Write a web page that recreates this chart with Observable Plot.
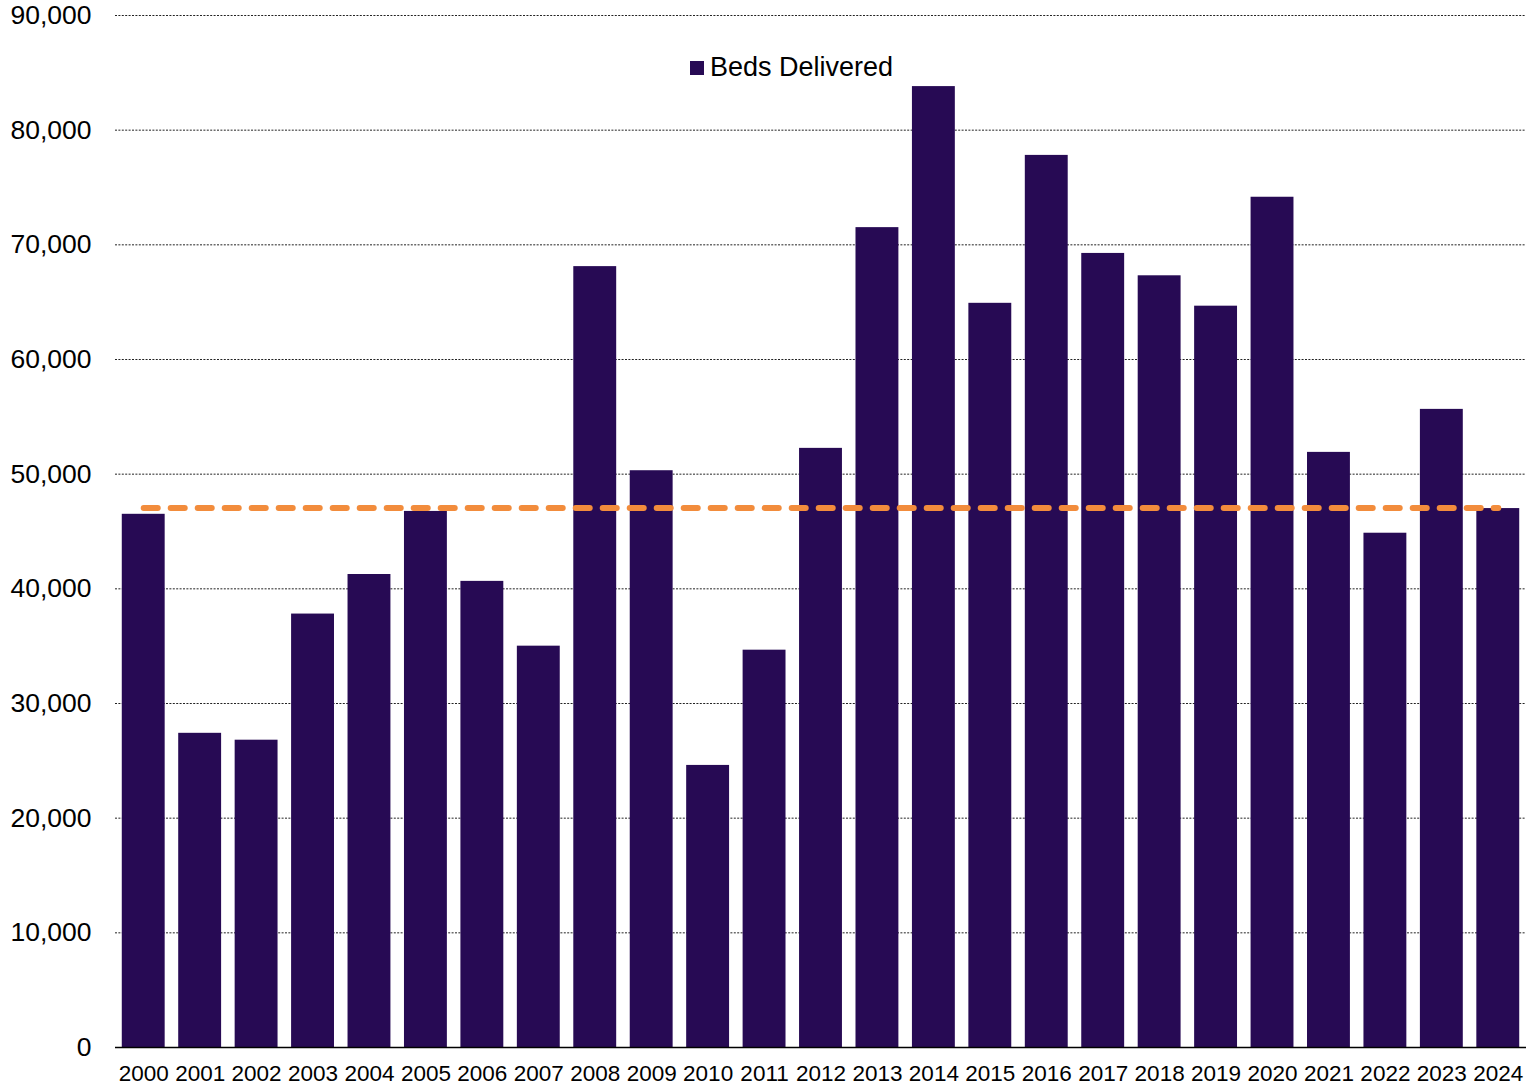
<!DOCTYPE html>
<html>
<head>
<meta charset="utf-8">
<script src="https://cdn.jsdelivr.net/npm/d3@7"></script>
<script src="https://cdn.jsdelivr.net/npm/@observablehq/plot@0.6"></script>
<style>
  html, body { margin: 0; padding: 0; background: #fff; }
  #chart { position: relative; width: 1526px; height: 1087px; font-family: "Liberation Sans", Arial, sans-serif; }
  #legend { position: absolute; left: 690px; top: 52px; display: flex; align-items: center; font-size: 27px; color: #000; white-space: nowrap; }
  #legend .swatch { width: 14px; height: 14px; background: #270A54; margin-right: 6px; }
</style>
</head>
<body>
<div id="chart">
  <div id="legend"><span class="swatch"></span><span>Beds Delivered</span></div>
</div>
<script>
// Annual beds delivered, 2000–2024
const years = ["2000","2001","2002","2003","2004","2005","2006","2007","2008","2009","2010","2011","2012",
               "2013","2014","2015","2016","2017","2018","2019","2020","2021","2022","2023","2024"];
const beds = [46500, 27400, 26800, 37800, 41250, 46750, 40650, 35000, 68100, 50300, 24600, 34650, 52250,
              71500, 83800, 64900, 77800, 69250, 67300, 64650, 74150, 51900, 44850, 55650, 47000];
// Reference level drawn as the dashed line
const referenceLevel = 47050;
const yTicks = [0, 10000, 20000, 30000, 40000, 50000, 60000, 70000, 80000, 90000];

const rows = years.map((year, i) => ({year, beds: beds[i]}));
const refRows = years.map(year => ({year, value: referenceLevel}));

const barColor = "#270A54";
const lineColor = "#F28C3C";

const chart = Plot.plot({
  width: 1526,
  height: 1087,
  marginLeft: 115,
  marginRight: 0,
  marginTop: 15,
  marginBottom: 40,
  style: {fontFamily: "'Liberation Sans', Arial, sans-serif", background: "#fff", color: "#000"},
  x: {type: "band", domain: years, paddingInner: 0.24, paddingOuter: 0.12, round: false, label: null},
  y: {domain: [0, 90000], label: null},
  marks: [
    Plot.gridY(yTicks.filter(d => d > 0), {stroke: "#222", strokeOpacity: 1, strokeWidth: 1, strokeDasharray: "2,1.4"}),
    Plot.barY(rows, {x: "year", y: "beds", fill: barColor}),
    Plot.ruleY([0], {stroke: "#000", strokeWidth: 1.5}),
    Plot.line(refRows, {x: "year", y: "value", stroke: lineColor, strokeWidth: 6,
      strokeLinecap: "round", strokeDasharray: "14,13"}),
    Plot.axisY(yTicks, {tickSize: 0, tickPadding: 24, tickFormat: d3.format(","), fontSize: 26.5, label: null}),
    Plot.axisX({tickSize: 0, tickPadding: 18, fontSize: 22.5, label: null})
  ]
});

document.getElementById("chart").prepend(chart);
</script>
</body>
</html>
